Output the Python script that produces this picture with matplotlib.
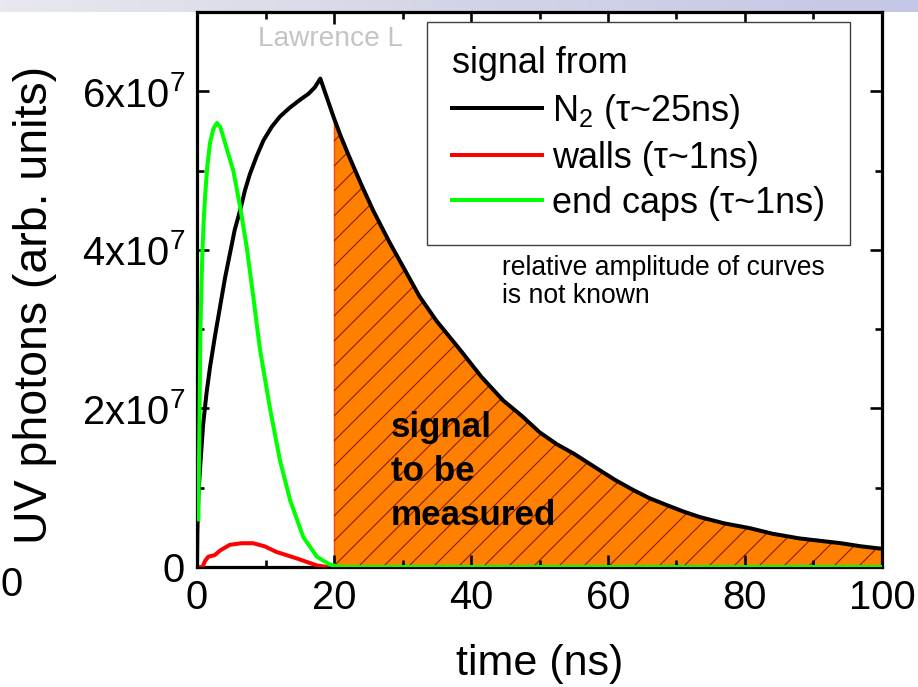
import numpy as np
import matplotlib
matplotlib.use("Agg")
import matplotlib.pyplot as plt
from matplotlib.ticker import MultipleLocator, FixedLocator, FixedFormatter
from matplotlib.colors import LinearSegmentedColormap

# ---------------- data ----------------
# N2 signal (tau ~ 25 ns), values in units of 1e7 photons
n2_time = [0.0, 0.05, 0.2, 0.45, 0.9, 1.4, 1.9, 2.6, 3.4, 4.1, 4.8, 5.5, 6.3, 7.0,
           7.7, 8.7, 9.7, 10.9, 12.1, 13.5, 15.0, 16.3, 17.2, 18.0,
           20.0, 21.0, 22.0, 23.0, 24.0, 25.7, 27.0, 28.2, 30.0, 32.5, 35.0,
           38.4, 41.5, 44.7, 47.5, 50.0, 52.5, 55.0, 58.8, 61.0, 63.7, 66.0,
           68.6, 71.0, 73.4, 77.0, 80.7, 84.0, 88.0, 91.0, 94.0, 97.0, 100.0]
n2_signal_e7 = [0.0, 0.45, 0.9, 1.25, 1.8, 2.2, 2.52, 2.9, 3.3, 3.65, 3.95, 4.25,
                4.5, 4.75, 4.95, 5.18, 5.38, 5.55, 5.68, 5.79, 5.89, 5.97, 6.05,
                6.16,
                5.66, 5.43, 5.22, 5.02, 4.82, 4.50, 4.28, 4.08, 3.80, 3.41, 3.10,
                2.74, 2.40, 2.10, 1.90, 1.70, 1.55, 1.43, 1.22, 1.10, 0.97, 0.87,
                0.78, 0.70, 0.63, 0.55, 0.49, 0.42, 0.36, 0.33, 0.30, 0.26, 0.23]

# walls signal (tau ~ 1 ns)
walls_time = [0.0, 0.8, 1.2, 1.65, 2.6, 3.4, 4.8, 6.5, 8.2, 9.9, 11.6, 14.5, 17.5, 19.0]
walls_signal_e7 = [0.0, 0.0, 0.08, 0.13, 0.15, 0.21, 0.28, 0.30, 0.30, 0.26, 0.19,
                   0.11, 0.02, 0.0]

# end caps signal (tau ~ 1 ns)
caps_time = [0.2, 0.35, 0.5, 0.65, 0.8, 1.0, 1.2, 1.5, 1.9, 2.4, 2.9, 3.4, 3.85,
             4.5, 5.3, 6.3, 7.25, 8.2, 9.2, 10.7, 12.1, 13.6, 15.5, 17.5, 19.4,
             21.0, 100.0]
caps_signal_e7 = [0.6, 1.8, 3.0, 3.55, 4.0, 4.4, 4.7, 5.05, 5.35, 5.53, 5.6, 5.55,
                  5.42, 5.23, 5.0, 4.54, 4.04, 3.42, 2.74, 1.98, 1.35, 0.84, 0.38,
                  0.13, 0.03, 0.0, 0.0]

measure_start = 20.0

legend_title = "signal from"
legend_labels = ["N$_2$ (τ~25ns)", "walls (τ~1ns)", "end caps (τ~1ns)"]
note_text = "relative amplitude of curves\nis not known"
region_text = "signal\nto be\nmeasured"
watermark = "Lawrence L"

x_ticks = [0, 20, 40, 60, 80, 100]
y_ticks = [0, 2e7, 4e7, 6e7]
y_tick_labels = ["0", "2x10$^{7}$", "4x10$^{7}$", "6x10$^{7}$"]
x_label = "time (ns)"
y_label = "UV photons (arb. units)"

# ---------------- style ----------------
DPI = 75
W, H = 918, 687


def px(p):
    """pixel size -> points at this dpi"""
    return p * 72.0 / DPI


plt.rcParams["font.family"] = ["Liberation Sans", "DejaVu Sans"]
plt.rcParams["mathtext.fontset"] = "custom"
plt.rcParams["mathtext.rm"] = "Liberation Sans"
plt.rcParams["mathtext.it"] = "Liberation Sans:italic"
plt.rcParams["mathtext.bf"] = "Liberation Sans:bold"
plt.rcParams["hatch.linewidth"] = px(1.1)

fig = plt.figure(figsize=(W / DPI, H / DPI), dpi=DPI)
fig.patch.set_facecolor("white")

# slide-like strip at top
strip = fig.add_axes([0, 1 - 12 / H, 1, 12 / H])
cmap = LinearSegmentedColormap.from_list("strip", ["#e8e8ee", "#d4d4e8", "#c6c6e6"])
strip.imshow(np.linspace(0, 1, 256)[None, :], aspect="auto", cmap=cmap,
             extent=(0, 1, 0, 1))
strip.set_axis_off()

ax = fig.add_axes([197 / W, 1 - 567 / H, 685 / W, 555 / H])

t_n2 = np.array(n2_time)
s_n2 = np.array(n2_signal_e7) * 1e7
t_w = np.array(walls_time)
s_w = np.array(walls_signal_e7) * 1e7
t_c = np.array(caps_time)
s_c = np.array(caps_signal_e7) * 1e7

# hatched region "signal to be measured"
mask = t_n2 >= measure_start
ax.fill_between(t_n2[mask], 0, s_n2[mask], facecolor="#ff8000",
                edgecolor="#ff4a10", linewidth=px(1.5), zorder=1)
ax.fill_between(t_n2[mask], 0, s_n2[mask], facecolor="none",
                edgecolor="#8a1c00", linewidth=0, hatch="/", zorder=1.1)

lw = px(4)
l_w, = ax.plot(t_w, s_w, color="#ff0000", lw=lw, zorder=3, solid_joinstyle="round")
l_n2, = ax.plot(t_n2, s_n2, color="black", lw=lw, zorder=4, solid_joinstyle="round")
l_c, = ax.plot(t_c, s_c, color="#00ff00", lw=lw, zorder=5, solid_joinstyle="round")

ax.set_xlim(0, 100)
ax.set_ylim(0, 7e7)

ax.xaxis.set_major_locator(FixedLocator(x_ticks))
ax.xaxis.set_minor_locator(MultipleLocator(10))
ax.yaxis.set_major_locator(FixedLocator(y_ticks))
ax.yaxis.set_major_formatter(FixedFormatter(y_tick_labels))
ax.yaxis.set_minor_locator(MultipleLocator(1e7))

ax.tick_params(which="both", direction="in", top=True, right=True,
               width=px(2.6), colors="black")
ax.tick_params(which="major", length=px(12), labelsize=px(40), pad=px(12))
ax.tick_params(which="minor", length=px(7))
for sp in ax.spines.values():
    sp.set_linewidth(px(3.2))

ax.set_xlabel(x_label, fontsize=px(43), labelpad=px(27))
ax.set_ylabel(y_label, fontsize=px(46.5))
ax.yaxis.set_label_coords(-0.205, 0.472)

# watermark (partly hidden by the legend)
ax.text(0.089, 0.939, watermark, transform=ax.transAxes, fontsize=px(28),
        color="#c4c4c4", ha="left", va="baseline", zorder=0.5)

ax.text(28.3, 1.97e7, region_text, fontsize=px(35), fontweight="bold",
        ha="left", va="top", linespacing=1.42, zorder=6)

ax.text(0.445, 0.562, note_text, transform=ax.transAxes, fontsize=px(26.5),
        ha="left", va="top", linespacing=1.1, zorder=6)

leg = ax.legend(handles=[l_n2, l_w, l_c], labels=legend_labels, title=legend_title,
                loc="upper left", bbox_to_anchor=(0.336, 0.982), borderaxespad=0,
                fontsize=px(36), title_fontsize=px(36), alignment="left",
                frameon=True, fancybox=False, edgecolor="#404040", framealpha=1,
                handlelength=2.5, handletextpad=0.3, borderpad=0.68,
                labelspacing=0.28)
leg.get_frame().set_linewidth(px(1.4))
leg.set_zorder(7)

# fragment of a neighbouring plot at the left edge
fig.text(0.0, 1 - 585 / H, "0", fontsize=px(40), ha="left", va="center")

fig.savefig("out.png", dpi=DPI, facecolor="white")
